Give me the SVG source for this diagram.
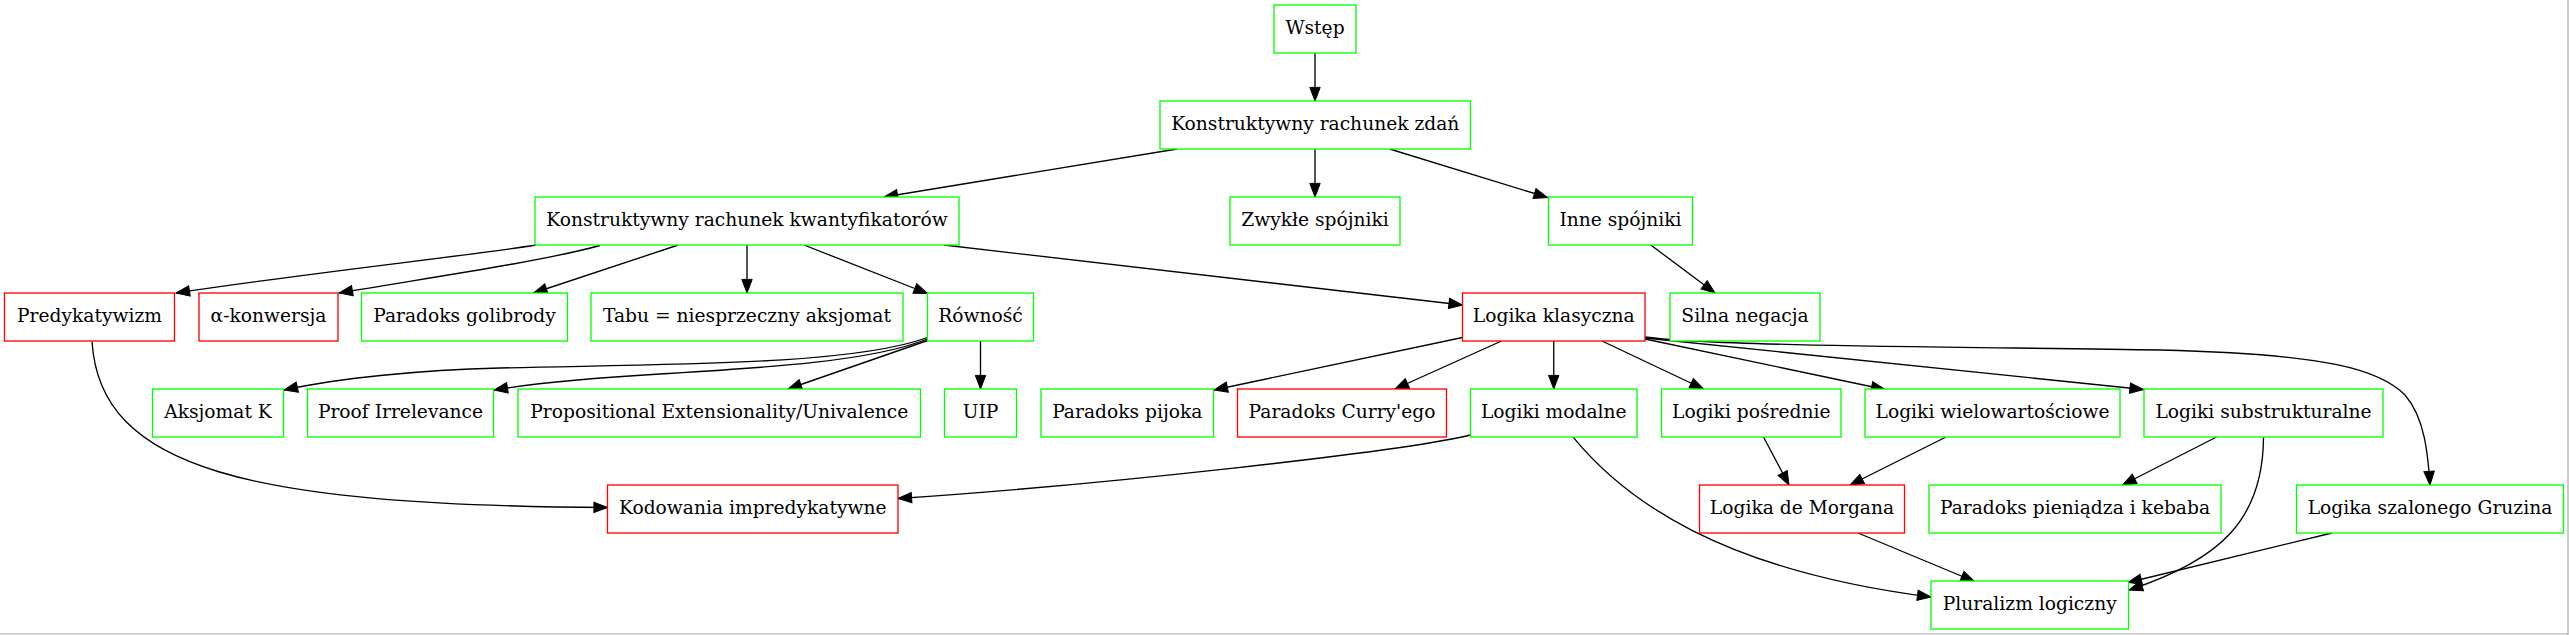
<svg xmlns="http://www.w3.org/2000/svg" width="2569" height="635" viewBox="0 0 2569 635">
<style>
.n rect{fill:#fff;stroke-width:1.33}
.g rect{stroke:#00ff00}
.r rect{stroke:#ff0000}
.n text{font-family:"DejaVu Serif",serif;font-size:18.67px;fill:#000;text-anchor:middle}
#edges path{fill:none;stroke:#000;stroke-width:1.33;marker-end:url(#ah)}
</style>
<defs>
<marker id="ah" markerUnits="userSpaceOnUse" markerWidth="16" markerHeight="12" refX="13.6" refY="5.2" orient="auto" overflow="visible">
<path d="M0,0 L13.6,5.2 L0,10.4 z" fill="#000" stroke="#000" stroke-width="1"/>
</marker>
</defs>
<rect x="0" y="0" width="2569" height="635" fill="#fff"/>
<line x1="2568" y1="0" x2="2568" y2="634.5" stroke="#a8a8a8" stroke-width="1.2"/>
<line x1="0" y1="634" x2="2568.5" y2="634" stroke="#a8a8a8" stroke-width="1.2"/>
<g id="edges">
<path d="M1315,53 L1315,101"/>
<path d="M1177,149 L884,197"/>
<path d="M1315,149 L1315,197"/>
<path d="M1389.6,149 L1547.5,197.5"/>
<path d="M536,245 C460,257 330,270 176,293"/>
<path d="M600,245.5 C540,262 420,279 339,293"/>
<path d="M678.3,245 L533.5,293"/>
<path d="M747,245 L747,293"/>
<path d="M804,245 L927.5,293.5"/>
<path d="M944,245 L1462.5,305"/>
<path d="M1650.8,245 L1715,293"/>
<path d="M927.5,337.5 C850,366 660,364 500,368 C420,370 340,378 284,390"/>
<path d="M927.5,339 C870,362 760,368 660,374 C590,378 530,384 494,390"/>
<path d="M927.5,340.5 L788,389"/>
<path d="M980.5,341 L980.5,389"/>
<path d="M1462.5,337.5 L1214,390"/>
<path d="M1501.5,341 L1395,389"/>
<path d="M1553.75,341 L1553.75,389"/>
<path d="M1602,341 L1703.5,389"/>
<path d="M1645,339 L1885,389.5"/>
<path d="M1645,338 L2143.5,389.5"/>
<path d="M1645,337 C1720,347 2000,347 2160,350 C2330,354 2380,370 2405,395 C2425,418 2428,455 2430,485"/>
<path d="M1763.5,437 L1789,485"/>
<path d="M1946,437 L1850,485"/>
<path d="M2216.5,437 L2122.5,485"/>
<path d="M2263.5,437.5 C2263,520 2220,560 2129,590"/>
<path d="M2332,533 L2128,582.5"/>
<path d="M1858,533 L1974.5,581.5"/>
<path d="M1573.3,437.3 C1625,500 1720,570 1931,597"/>
<path d="M1470.5,435 C1400,452 1100,485 898,498.5"/>
<path d="M92,341.5 C100,470 250,505 607.5,507.5"/>
</g>
<g id="wstep" class="n g"><rect x="1274" y="5" width="82" height="48"/><text x="1315" y="34.3">Wstęp</text></g>
<g id="krz" class="n g"><rect x="1160" y="101" width="310.5" height="48"/><text x="1315.25" y="130.3">Konstruktywny rachunek zdań</text></g>
<g id="krk" class="n g"><rect x="535" y="197" width="424" height="48"/><text x="747" y="226.3">Konstruktywny rachunek kwantyfikatorów</text></g>
<g id="zwykle" class="n g"><rect x="1230" y="197" width="170" height="48"/><text x="1315" y="226.3">Zwykłe spójniki</text></g>
<g id="inne" class="n g"><rect x="1548.5" y="197" width="144" height="48"/><text x="1620.5" y="226.3">Inne spójniki</text></g>
<g id="predykatywizm" class="n r"><rect x="4.5" y="293" width="170" height="48"/><text x="89.5" y="322.3">Predykatywizm</text></g>
<g id="alfa" class="n r"><rect x="199" y="293" width="139" height="48"/><text x="268.5" y="322.3">α-konwersja</text></g>
<g id="golibrody" class="n g"><rect x="361.5" y="293" width="206" height="48"/><text x="464.5" y="322.3">Paradoks golibrody</text></g>
<g id="tabu" class="n g"><rect x="591" y="293" width="312" height="48"/><text x="747" y="322.3">Tabu = niesprzeczny aksjomat</text></g>
<g id="rownosc" class="n g"><rect x="927.5" y="293" width="106" height="48"/><text x="980.5" y="322.3">Równość</text></g>
<g id="klasyczna" class="n r"><rect x="1462.5" y="293" width="182.5" height="48"/><text x="1553.75" y="322.3">Logika klasyczna</text></g>
<g id="silna" class="n g"><rect x="1670" y="293" width="150" height="48"/><text x="1745" y="322.3">Silna negacja</text></g>
<g id="aksjomatk" class="n g"><rect x="152.5" y="389" width="131" height="48"/><text x="218" y="418.3">Aksjomat K</text></g>
<g id="proof" class="n g"><rect x="307.5" y="389" width="186" height="48"/><text x="400.5" y="418.3">Proof Irrelevance</text></g>
<g id="propext" class="n g"><rect x="518" y="389" width="402.5" height="48"/><text x="719.25" y="418.3">Propositional Extensionality/Univalence</text></g>
<g id="uip" class="n g"><rect x="944.5" y="389" width="72" height="48"/><text x="980.5" y="418.3">UIP</text></g>
<g id="pijoka" class="n g"><rect x="1041" y="389" width="172.5" height="48"/><text x="1127.25" y="418.3">Paradoks pijoka</text></g>
<g id="curry" class="n r"><rect x="1237.5" y="389" width="209" height="48"/><text x="1342" y="418.3">Paradoks Curry'ego</text></g>
<g id="modalne" class="n g"><rect x="1470.5" y="389" width="166.5" height="48"/><text x="1553.75" y="418.3">Logiki modalne</text></g>
<g id="posrednie" class="n g"><rect x="1661.5" y="389" width="179.5" height="48"/><text x="1751.25" y="418.3">Logiki pośrednie</text></g>
<g id="wielowartosciowe" class="n g"><rect x="1865" y="389" width="255" height="48"/><text x="1992.5" y="418.3">Logiki wielowartościowe</text></g>
<g id="substrukturalne" class="n g"><rect x="2144" y="389" width="239" height="48"/><text x="2263.5" y="418.3">Logiki substrukturalne</text></g>
<g id="kodowania" class="n r"><rect x="607.5" y="485" width="290.5" height="48"/><text x="752.75" y="514.3">Kodowania impredykatywne</text></g>
<g id="demorgan" class="n r"><rect x="1699.5" y="485" width="205" height="48"/><text x="1802" y="514.3">Logika de Morgana</text></g>
<g id="pieniadz" class="n g"><rect x="1929" y="485" width="292" height="48"/><text x="2075" y="514.3">Paradoks pieniądza i kebaba</text></g>
<g id="gruzin" class="n g"><rect x="2296.5" y="485" width="267" height="48"/><text x="2430" y="514.3">Logika szalonego Gruzina</text></g>
<g id="pluralizm" class="n g"><rect x="1931" y="581" width="197.5" height="48"/><text x="2029.75" y="610.3">Pluralizm logiczny</text></g>
</svg>
